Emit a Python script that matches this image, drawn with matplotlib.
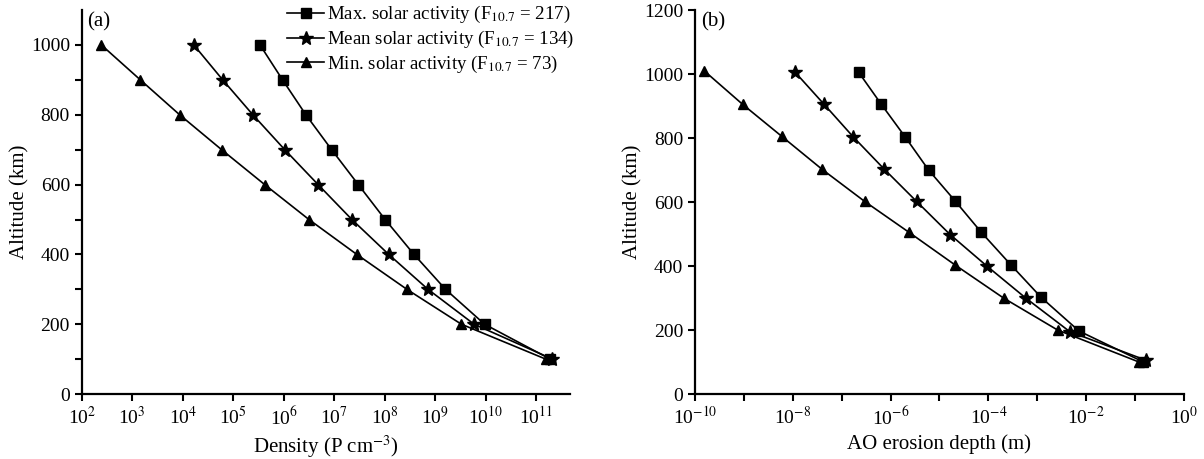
import matplotlib.pyplot as plt
import numpy as np

plt.rcParams['font.family'] = ['Liberation Serif', 'DejaVu Serif']
plt.rcParams['mathtext.fontset'] = 'stix'

altitude = [1000, 900, 800, 700, 600, 500, 400, 300, 200, 100]

# panel (a): density (P cm^-3)
dens_max = [3.4e5, 9.5e5, 2.75e6, 8.9e6, 3.0e7, 1.02e8, 3.8e8, 1.6e9, 9.5e9, 1.9e11]
dens_mean = [1.66e4, 6.2e4, 2.45e5, 1.05e6, 4.8e6, 2.24e7, 1.2e8, 7.2e8, 5.9e9, 2.1e11]
dens_min = [245, 1.45e3, 8.7e3, 5.9e4, 4.2e5, 3.16e6, 2.8e7, 2.75e8, 3.3e9, 1.55e11]

# panel (b): AO erosion depth (m)
alt_b_max = [1005, 905, 803, 700, 603, 505, 402, 302, 197, 100]
alt_b_mean = [1007, 905, 803, 703, 602, 498, 400, 300, 195, 105]
alt_b_min = [1010, 905, 805, 702, 602, 505, 403, 300, 200, 100]
ero_max = [2.24e-7, 6.5e-7, 2.0e-6, 6.0e-6, 2.1e-5, 7.2e-5, 2.95e-4, 1.2e-3, 7.1e-3, 0.148]
ero_mean = [1.1e-8, 4.4e-8, 1.74e-7, 7.4e-7, 3.4e-6, 1.66e-5, 9.3e-5, 5.8e-4, 4.6e-3, 0.17]
ero_min = [1.55e-10, 9.5e-10, 6.0e-9, 4.0e-8, 2.95e-7, 2.4e-6, 2.1e-5, 2.04e-4, 2.6e-3, 0.12]

labels = ['Max. solar activity (F$_{10.7}$ = 217)',
          'Mean solar activity (F$_{10.7}$ = 134)',
          'Min. solar activity (F$_{10.7}$ = 73)']

fig = plt.figure(figsize=(12.04, 4.59), dpi=100)
ax1 = fig.add_axes([0.0679, 0.1416, 0.4055, 0.8364])
ax2 = fig.add_axes([0.5772, 0.1416, 0.4062, 0.8364])

style = dict(color='black', lw=1.2)
ax1.plot(dens_max, altitude, marker='s', ms=7, label=labels[0], **style)
ax1.plot(dens_mean, altitude, marker='*', ms=10, label=labels[1], **style)
ax1.plot(dens_min, altitude, marker='^', ms=7, label=labels[2], **style)

ax2.plot(ero_max, alt_b_max, marker='s', ms=7, **style)
ax2.plot(ero_mean, alt_b_mean, marker='*', ms=10, **style)
ax2.plot(ero_min, alt_b_min, marker='^', ms=7, **style)

for ax in (ax1, ax2):
    ax.set_xscale('log')
    ax.spines['top'].set_visible(False)
    ax.spines['right'].set_visible(False)
    ax.spines['left'].set_linewidth(1.6)
    ax.spines['bottom'].set_linewidth(1.6)
    ax.tick_params(axis='both', direction='out', length=5, width=1.5, labelsize=14)
    ax.tick_params(axis='x', which='minor', length=0)
    ax.set_ylabel('Altitude (km)', fontsize=15, labelpad=1)

# panel (a) axes
ax1.set_xlim(1e2, 10 ** 11.67)
ax1.set_ylim(0, 1100)
ax1.set_yticks(np.arange(0, 1001, 200))
ax1.set_yticks(np.arange(100, 1001, 200), minor=True)
ax1.tick_params(axis='y', which='minor', direction='out', length=5, width=1.5)
dec_a = list(range(2, 12))
ax1.set_xticks([10.0 ** d for d in dec_a])
ax1.set_xticklabels(['10$^{%d}$' % d for d in dec_a])
ax1.set_xlabel('Density (P cm$^{-3}$)', fontsize=15)
ax1.text(0.012, 0.995, '(a)', transform=ax1.transAxes, fontsize=15, va='top')
ax1.legend(loc='upper right', bbox_to_anchor=(1.025, 1.035), frameon=False, fontsize=13.6,
           handlelength=2.0, handletextpad=0.15, labelspacing=0.2, borderaxespad=0)

# panel (b) axes
ax2.set_xlim(1e-10, 1)
ax2.set_ylim(0, 1200)
ax2.set_yticks(np.arange(0, 1201, 200))
dec_b = list(range(-10, 1))
ax2.set_xticks([10.0 ** d for d in dec_b])
ax2.set_xticklabels(['10$^{%d}$' % d if d % 2 == 0 else '' for d in dec_b])
ax2.set_xlabel('AO erosion depth (m)', fontsize=15)
ax2.text(0.012, 0.995, '(b)', transform=ax2.transAxes, fontsize=15, va='top')

fig.savefig('out.png', dpi=100)
